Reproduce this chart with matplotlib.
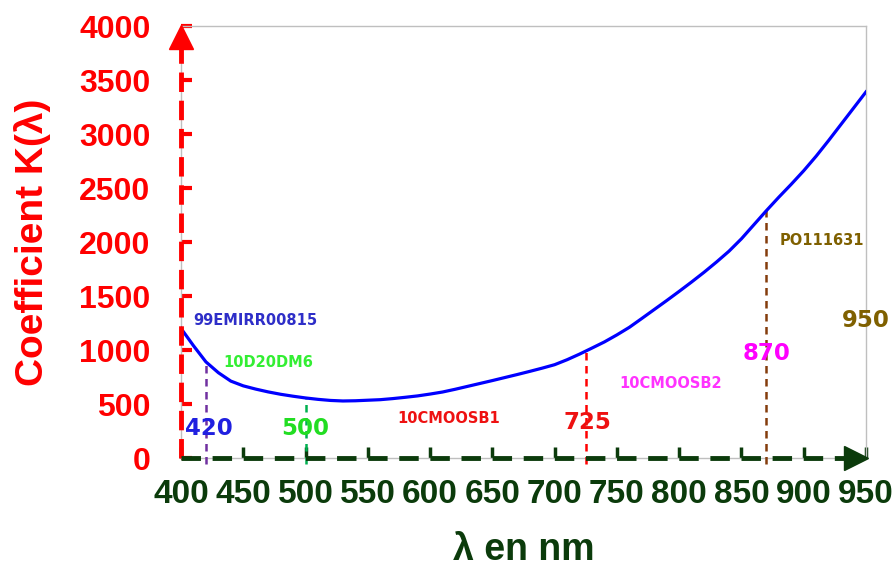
import numpy as np
import matplotlib
matplotlib.use("Agg")
import matplotlib.pyplot as plt

# curve K(lambda), every 10 nm
wavelength = list(range(400, 951, 10))
coef_k = [1200, 1040, 890, 790, 712, 668, 638, 612, 590, 572,
          556, 543, 533, 528, 530, 535, 540, 550, 562, 575,
          592, 611, 636, 663, 690, 717, 745, 773, 802, 832,
          864, 910, 962, 1018, 1075, 1140, 1210, 1292, 1375, 1458,
          1543, 1630, 1720, 1815, 1915, 2030, 2160, 2290, 2415, 2535,
          2660, 2795, 2940, 3090, 3240, 3390]

# vertical markers: (wavelength, top value, colour)
marker_wl = [420, 500, 725, 870]
marker_top = [890, 556, 1000, 2340]
marker_col = ["#7030A0", "#00B050", "#FF0000", "#843C0C"]

# sample names and wavelength labels
names = ["99EMIRR00815", "10D20DM6", "10CMOOSB1", "10CMOOSB2", "PO111631"]
name_pos = [(410, 1270), (434, 880), (574, 370), (752, 690), (881, 2010)]
name_col = ["#2E2EC8", "#33EE33", "#EE1111", "#FF33FF", "#7F6000"]

num_labels = ["420", "500", "725", "870", "950"]
num_pos = [(422, 275), (500, 275), (726, 330), (870, 970), (950, 1270)]
num_col = ["#2020E0", "#22DD22", "#EE1111", "#FF00FF", "#7F6000"]

xticks = list(range(400, 951, 50))
yticks = list(range(0, 4001, 500))

red = "#FF0000"
dgreen = "#0B3B0B"

fig = plt.figure(figsize=(8.96, 5.69), dpi=100)
ax = fig.add_axes([181/896, 1-458/569, (866-181)/896, (458-26)/569])
ax.set_xlim(400, 950)
ax.set_ylim(0, 4000)

for s in ax.spines.values():
    s.set_color("#BFBFBF")
    s.set_linewidth(1)

ax.plot(wavelength, coef_k, color="#0000FF", lw=2.3, zorder=5)

for wl, top, c in zip(marker_wl, marker_top, marker_col):
    ax.plot([wl, wl], [-60, top], color=c, lw=1.8, dashes=(3, 2.2),
            clip_on=False, zorder=3)

# dashed axes with arrows
ax.plot([0, 0], [0, 0.955], transform=ax.transAxes, color=red, lw=3.5,
        dashes=(4, 1.8), clip_on=False, zorder=6)
ax.plot([0], [0.975], transform=ax.transAxes, marker="^", ms=17, color=red,
        clip_on=False, zorder=7)
ax.plot([0, 0.975], [0, 0], transform=ax.transAxes, color=dgreen, lw=3.5,
        dashes=(4, 2.4), clip_on=False, zorder=6)
ax.plot([0.985], [0], transform=ax.transAxes, marker=">", ms=17, color=dgreen,
        clip_on=False, zorder=7)

ax.set_xticks(xticks)
ax.set_yticks(yticks)
ax.tick_params(axis="y", direction="in", length=8, width=3, color=red,
               labelcolor=red, pad=22, labelsize=23)
ax.tick_params(axis="x", direction="in", length=8, width=2.5, color=dgreen,
               labelcolor=dgreen, pad=15, labelsize=24)
for lab in ax.get_yticklabels():
    lab.set_fontweight("bold")
    lab.set_family("Liberation Sans")
for lab in ax.get_xticklabels():
    lab.set_fontweight("bold")
    lab.set_family(["Liberation Sans Narrow", "Liberation Sans"])

ax.set_ylabel("Coefficient K(λ)", color=red, fontsize=28, fontweight="bold",
              family="Liberation Sans", labelpad=20)
ax.set_xlabel("λ en nm", color=dgreen, fontsize=27, fontweight="bold",
              family="Liberation Sans", labelpad=16)

for t, (x, y), c in zip(names, name_pos, name_col):
    ax.text(x, y, t, color=c, fontsize=10.5, fontweight="bold",
            family="DejaVu Sans", ha="left", va="center", zorder=8)

for t, (x, y), c in zip(num_labels, num_pos, num_col):
    ax.text(x, y, t, color=c, fontsize=16.5, fontweight="bold",
            family="DejaVu Sans", ha="center", va="center", zorder=8,
            clip_on=False)

fig.savefig("out.png", dpi=100)
